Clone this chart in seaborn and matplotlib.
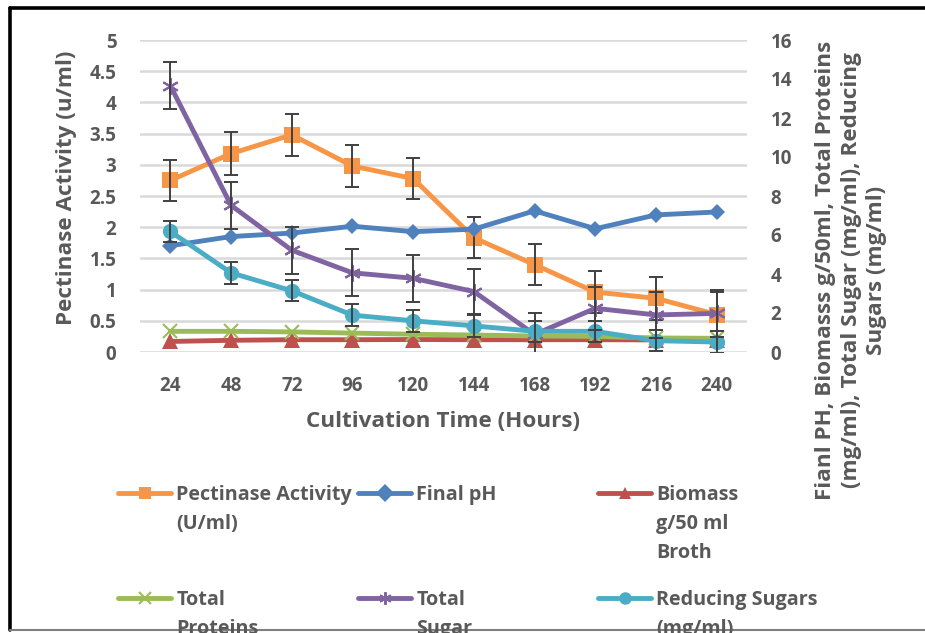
import numpy as np
import pandas as pd
import matplotlib.pyplot as plt
import seaborn as sns
from matplotlib.lines import Line2D

hours = ["24", "48", "72", "96", "120", "144", "168", "192", "216", "240"]

# left axis (u/ml)
pectinase = [2.75, 3.18, 3.48, 2.98, 2.78, 1.83, 1.40, 0.96, 0.86, 0.60]
pectinase_err = [0.33, 0.35, 0.34, 0.33, 0.33, 0.33, 0.33, 0.34, 0.34, 0.36]

# right axis
final_ph = [5.45, 5.92, 6.10, 6.45, 6.17, 6.30, 7.24, 6.32, 7.03, 7.18]
biomass = [0.54, 0.60, 0.63, 0.63, 0.64, 0.63, 0.63, 0.63, 0.62, 0.62]
proteins = [1.06, 1.06, 1.03, 0.97, 0.91, 0.87, 0.82, 0.80, 0.72, 0.70]
total_sugar = [13.66, 7.52, 5.22, 4.06, 3.78, 3.10, 0.90, 2.24, 1.90, 1.98]
total_sugar_err = [1.2, 1.2, 1.2, 1.2, 1.2, 1.17, 1.1, 1.1, 1.2, 1.2]
reducing = [6.18, 4.06, 3.14, 1.89, 1.60, 1.34, 1.06, 1.06, 0.58, 0.51]
reducing_err = [0.55, 0.55, 0.55, 0.55, 0.55, 0.55, 0.55, 0.55, 0.55, 0.55]

sns.set_theme(style="white")
plt.rcParams['font.family'] = ['Open Sans', 'DejaVu Sans']
plt.rcParams['font.weight'] = 'bold'
txt = "#595959"
fs = 13.5      # tick labels
fs_lab = 16.2  # axis titles
fs_leg = 14.2  # legend

x = np.arange(len(hours))

fig = plt.figure(figsize=(9.25, 6.33), dpi=100)
ax = fig.add_axes([140 / 925, 1 - 352 / 633, (747 - 140) / 925, (352 - 40) / 633])
ax2 = ax.twinx()

ax.set_xlim(-0.5, len(hours) - 0.5)
ax.set_ylim(0, 5)
ax2.set_ylim(0, 16)
ax.set_yticks(np.arange(0, 5.01, 0.5))
ax.set_yticklabels(["0", "0.5", "1", "1.5", "2", "2.5", "3", "3.5", "4", "4.5", "5"])
ax2.set_yticks(np.arange(0, 17, 2))
ax.yaxis.grid(True, color="#d9d9d9", lw=1.8)
ax.xaxis.grid(False)
ax2.grid(False)
for a in (ax, ax2):
    for s in a.spines.values():
        s.set_visible(False)
    a.tick_params(length=0, labelsize=fs, labelcolor=txt)
ax.tick_params(axis='y', pad=17)
ax.tick_params(axis='x', pad=17)
ax2.tick_params(axis='y', pad=17)
ax.set_xticks(x)
ax.set_xticklabels(hours)
for t in ax.get_xticklabels() + ax.get_yticklabels() + ax2.get_yticklabels():
    t.set_fontweight('bold')

ecol = "#404040"
lw = 3.5

sns.lineplot(x=x, y=pectinase, ax=ax, color="#F79646", lw=lw, marker="s", ms=11,
             markeredgewidth=0, zorder=3)
ax.errorbar(x, pectinase, yerr=pectinase_err, fmt="none", ecolor=ecol, elinewidth=1.4,
            capsize=5, capthick=1.4, zorder=4)

sns.lineplot(x=x, y=final_ph, ax=ax2, color="#4F81BD", lw=lw, marker="D", ms=8,
             markeredgewidth=0, zorder=3)
sns.lineplot(x=x, y=biomass, ax=ax2, color="#C0504D", lw=lw, marker="^", ms=11,
             markeredgewidth=0, zorder=3)
sns.lineplot(x=x, y=proteins, ax=ax2, color="#9BBB59", lw=lw, marker="x", ms=10,
             markeredgewidth=1.5, markeredgecolor="#9BBB59", zorder=3)
sns.lineplot(x=x, y=total_sugar, ax=ax2, color="#8064A2", lw=lw, marker=(6, 2, 0), ms=12,
             markeredgewidth=1.5, markeredgecolor="#8064A2", zorder=3)
ax2.errorbar(x, total_sugar, yerr=total_sugar_err, fmt="none", ecolor=ecol, elinewidth=1.4,
             capsize=5, capthick=1.4, zorder=4)
sns.lineplot(x=x, y=reducing, ax=ax2, color="#4BACC6", lw=lw, marker="o", ms=11,
             markeredgewidth=0, zorder=3)
ax2.errorbar(x, reducing, yerr=reducing_err, fmt="none", ecolor=ecol, elinewidth=1.4,
             capsize=5, capthick=1.4, zorder=4)

ax.set_ylabel("Pectinase Activity (u/ml)", fontsize=fs_lab, color=txt, fontweight='bold', labelpad=9)
ax.yaxis.label.set_y(0.527)
ax.set_xlabel("Cultivation Time (Hours)", fontsize=fs_lab, color=txt, fontweight='bold', labelpad=11)
ax2.set_ylabel("")
fig.text(851 / 925, 1 - 270 / 633,
         "Fianl PH, Biomasss g/50ml, Total Proteins\n(mg/ml), Total Sugar (mg/ml), Reducing\nSugars (mg/ml)",
         rotation=90, ha="center", va="center", multialignment="center",
         fontsize=fs_lab, color=txt, fontweight='bold', linespacing=1.27)

# legend entries, placed one by one; handle sits on the first text line
entries = [
    ("Pectinase Activity", "(U/ml)", "#F79646", "s", 0),
    ("Final pH", "", "#4F81BD", "D", 0),
    ("Biomass", "g/50 ml\nBroth", "#C0504D", "^", 0),
    ("Total", "Proteins", "#9BBB59", "x", 1.5),
    ("Total", "Sugar", "#8064A2", (6, 2, 0), 1.5),
    ("Reducing Sugars", "(mg/ml)", "#4BACC6", "o", 0),
]
col_x = [118, 358, 598]
row_y = [485, 590]
for i, (lab, rest, c, m, mew) in enumerate(entries):
    h = Line2D([], [], color=c, lw=lw, marker=m, ms=9, markeredgewidth=mew, markeredgecolor=c)
    leg = fig.legend(handles=[h], labels=[lab], loc="upper left",
                     bbox_to_anchor=(col_x[i % 3] / 925, 1 - row_y[i // 3] / 633),
                     frameon=False, handlelength=2.7, handletextpad=0.25, borderpad=0,
                     borderaxespad=0, prop={'size': fs_leg, 'weight': 'bold'})
    lt = leg.get_texts()[0]
    lt.set_color(txt)
    if rest:
        ann = plt.Annotation(rest, xy=(0, 0), xycoords=lt, xytext=(0, -6.5),
                             textcoords="offset points", va="top", ha="left",
                             fontsize=fs_leg, fontweight='bold', color=txt, linespacing=1.6)
        ann.set_zorder(10)
        fig.add_artist(ann)

# outer frame: black top and left, thin grey bottom
fig.add_artist(Line2D([10 / 925, 10 / 925], [1 - 630 / 633, 1 - 8 / 633], transform=fig.transFigure,
                      color="black", lw=2.6))
fig.add_artist(Line2D([10 / 925, 1], [1 - 8 / 633, 1 - 8 / 633], transform=fig.transFigure,
                      color="black", lw=2.6))
fig.add_artist(Line2D([10 / 925, 1], [1 - 630 / 633, 1 - 630 / 633], transform=fig.transFigure,
                      color="#7f7f7f", lw=1.5))

fig.savefig("out.png", dpi=100)
